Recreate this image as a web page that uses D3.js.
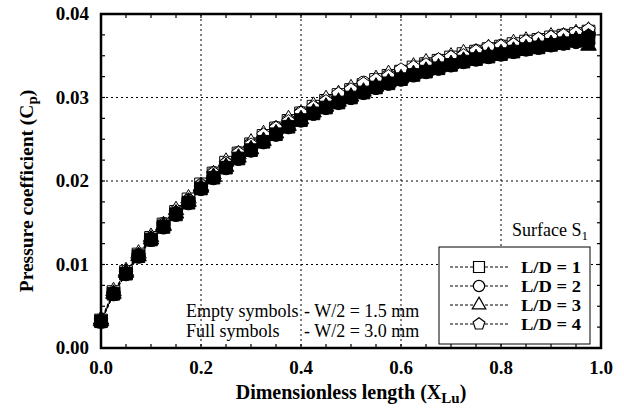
<!DOCTYPE html>
<html>
<head>
<meta charset="utf-8">
<script src="https://cdn.jsdelivr.net/npm/d3@7"></script>
<style>
  body { margin: 0; background: #fff; }
</style>
</head>
<body>
<div id="chart"></div>
<script>
var svgWidth = 624;
var svgHeight = 413;

var margin = { top: 14, right: 23, bottom: 65, left: 101 };
var width = svgWidth - margin.left - margin.right;
var height = svgHeight - margin.top - margin.bottom;

// dimensionless length positions
var xLu = [0, 0.025, 0.05, 0.075, 0.1, 0.125, 0.15, 0.175, 0.2, 0.225, 0.25, 0.275, 0.3, 0.325, 0.35, 0.375,
  0.4, 0.425, 0.45, 0.475, 0.5, 0.525, 0.55, 0.575, 0.6, 0.625, 0.65, 0.675, 0.7, 0.725, 0.75, 0.775,
  0.8, 0.825, 0.85, 0.875, 0.9, 0.925, 0.95, 0.975];

// empty symbols, W/2 = 1.5 mm
var cpEmpty1 = [0.0033, 0.0067, 0.0091, 0.0112, 0.0132, 0.0148, 0.0163, 0.0178, 0.0196, 0.0209, 0.0222, 0.0233, 0.0244, 0.0254, 0.0263, 0.0272,
  0.0281, 0.0289, 0.0296, 0.0303, 0.0309, 0.0315, 0.0321, 0.0326, 0.0331, 0.0336, 0.0340, 0.0344, 0.0348, 0.0352, 0.0355, 0.0358,
  0.0361, 0.0364, 0.0367, 0.0369, 0.0372, 0.0374, 0.0376, 0.0379];
var cpEmpty2 = [0.0032, 0.0066, 0.0090, 0.0111, 0.0131, 0.0149, 0.0164, 0.0177, 0.0195, 0.0210, 0.0221, 0.0234, 0.0245, 0.0253, 0.0264, 0.0273,
  0.0282, 0.0288, 0.0297, 0.0302, 0.0310, 0.0318, 0.0320, 0.0327, 0.0332, 0.0335, 0.0341, 0.0345, 0.0347, 0.0351, 0.0356, 0.0357,
  0.0362, 0.0363, 0.0366, 0.0370, 0.0371, 0.0375, 0.0375, 0.0378];
var cpEmpty3 = [0.0034, 0.0068, 0.0092, 0.0113, 0.0133, 0.0147, 0.0165, 0.0179, 0.0194, 0.0208, 0.0223, 0.0232, 0.0246, 0.0256, 0.0262, 0.0274,
  0.0280, 0.0290, 0.0298, 0.0304, 0.0311, 0.0314, 0.0322, 0.0328, 0.0330, 0.0337, 0.0342, 0.0343, 0.0349, 0.0353, 0.0354, 0.0359,
  0.0360, 0.0365, 0.0368, 0.0368, 0.0373, 0.0373, 0.0377, 0.0380];
var cpEmpty4 = [0.0033, 0.0066, 0.0092, 0.0111, 0.0131, 0.0148, 0.0162, 0.0177, 0.0195, 0.0209, 0.0221, 0.0233, 0.0243, 0.0255, 0.0263, 0.0271,
  0.0281, 0.0288, 0.0295, 0.0304, 0.0309, 0.0316, 0.0321, 0.0325, 0.0333, 0.0336, 0.0339, 0.0345, 0.0348, 0.0350, 0.0355, 0.0360,
  0.0361, 0.0363, 0.0367, 0.0370, 0.0372, 0.0374, 0.0377, 0.0381];

// full symbols, W/2 = 3.0 mm
var cpFull1 = [0.0032, 0.0065, 0.0089, 0.0110, 0.0130, 0.0145, 0.0160, 0.0174, 0.0191, 0.0204, 0.0216, 0.0227, 0.0237, 0.0247, 0.0256, 0.0265,
  0.0273, 0.0281, 0.0288, 0.0294, 0.0300, 0.0306, 0.0312, 0.0317, 0.0322, 0.0327, 0.0331, 0.0335, 0.0339, 0.0343, 0.0346, 0.0349,
  0.0352, 0.0355, 0.0358, 0.0360, 0.0363, 0.0365, 0.0368, 0.0371];
var cpFull2 = [0.0031, 0.0064, 0.0088, 0.0109, 0.0129, 0.0144, 0.0159, 0.0173, 0.0190, 0.0203, 0.0215, 0.0226, 0.0236, 0.0246, 0.0255, 0.0264,
  0.0272, 0.0280, 0.0287, 0.0293, 0.0299, 0.0305, 0.0311, 0.0316, 0.0321, 0.0326, 0.0330, 0.0334, 0.0338, 0.0342, 0.0345, 0.0348,
  0.0351, 0.0354, 0.0357, 0.0359, 0.0362, 0.0364, 0.0366, 0.0365];
var cpFull3 = [0.0032, 0.0065, 0.0090, 0.0110, 0.0130, 0.0146, 0.0161, 0.0175, 0.0192, 0.0205, 0.0217, 0.0228, 0.0238, 0.0248, 0.0257, 0.0266,
  0.0274, 0.0282, 0.0289, 0.0295, 0.0301, 0.0307, 0.0313, 0.0318, 0.0323, 0.0328, 0.0332, 0.0336, 0.0340, 0.0344, 0.0347, 0.0350,
  0.0353, 0.0356, 0.0359, 0.0361, 0.0364, 0.0366, 0.0369, 0.0362];
var cpFull4 = [0.0031, 0.0064, 0.0089, 0.0109, 0.0129, 0.0145, 0.0160, 0.0174, 0.0191, 0.0204, 0.0216, 0.0227, 0.0237, 0.0247, 0.0256, 0.0265,
  0.0273, 0.0281, 0.0288, 0.0294, 0.0300, 0.0306, 0.0312, 0.0317, 0.0322, 0.0327, 0.0331, 0.0335, 0.0339, 0.0343, 0.0346, 0.0349,
  0.0352, 0.0355, 0.0358, 0.0360, 0.0363, 0.0365, 0.0367, 0.0374];

var xTicks = [0, 0.2, 0.4, 0.6, 0.8, 1.0];
var yTicks = [0, 0.01, 0.02, 0.03, 0.04];
var legendLabels = ["L/D = 1", "L/D = 2", "L/D = 3", "L/D = 4"];

var serif = "'Liberation Serif', 'Tinos', 'Times New Roman', 'DejaVu Serif', serif";

// custom pentagon symbol
var symbolPentagon = {
  draw: function(context, size) {
    var r = Math.sqrt(size / 2.3776);
    for (var i = 0; i < 5; i++) {
      var a = -Math.PI / 2 + i * 2 * Math.PI / 5;
      if (i === 0) context.moveTo(r * Math.cos(a), r * Math.sin(a));
      else context.lineTo(r * Math.cos(a), r * Math.sin(a));
    }
    context.closePath();
  }
};
var shapes = [d3.symbolSquare, d3.symbolCircle, d3.symbolTriangle, symbolPentagon];
var shapeSize = [160, 125, 105, 120];
var legendSize = [120, 100, 80, 90];

var series = [
  { vals: cpEmpty1, shape: 0, full: false },
  { vals: cpEmpty2, shape: 1, full: false },
  { vals: cpEmpty3, shape: 2, full: false },
  { vals: cpEmpty4, shape: 3, full: false },
  { vals: cpFull1, shape: 0, full: true },
  { vals: cpFull2, shape: 1, full: true },
  { vals: cpFull3, shape: 2, full: true },
  { vals: cpFull4, shape: 3, full: true }
];

var svg = d3.select("#chart")
  .append("svg")
  .attr("width", svgWidth)
  .attr("height", svgHeight)
  .attr("font-family", serif)
  .style("font-family", serif);

var chartGroup = svg.append("g")
  .attr("transform", `translate(${margin.left}, ${margin.top})`);

var xScale = d3.scaleLinear().domain([0, 1]).range([0, width]);
var yScale = d3.scaleLinear().domain([0, 0.04]).range([height, 0]);

// dotted grid
chartGroup.append("g").selectAll("line.gx")
  .data(xTicks.slice(1, -1))
  .enter().append("line")
  .attr("x1", d => xScale(d)).attr("x2", d => xScale(d))
  .attr("y1", 0).attr("y2", height)
  .attr("stroke", "#000").attr("stroke-width", 1).attr("stroke-dasharray", "2,3");
chartGroup.append("g").selectAll("line.gy")
  .data(yTicks.slice(1, -1))
  .enter().append("line")
  .attr("y1", d => yScale(d)).attr("y2", d => yScale(d))
  .attr("x1", 0).attr("x2", width)
  .attr("stroke", "#000").attr("stroke-width", 1).attr("stroke-dasharray", "2,3");

// minor ticks (inward, all four sides)
var xMinor = d3.range(0, 1.0001, 0.05);
var yMinor = d3.range(0, 0.04001, 0.0025);
var tickG = chartGroup.append("g").attr("stroke", "#000").attr("stroke-width", 1.2);
xMinor.forEach(function(v) {
  tickG.append("line").attr("x1", xScale(v)).attr("x2", xScale(v)).attr("y1", height).attr("y2", height - 4);
  tickG.append("line").attr("x1", xScale(v)).attr("x2", xScale(v)).attr("y1", 0).attr("y2", 4);
});
yMinor.forEach(function(v) {
  tickG.append("line").attr("y1", yScale(v)).attr("y2", yScale(v)).attr("x1", 0).attr("x2", 4);
  tickG.append("line").attr("y1", yScale(v)).attr("y2", yScale(v)).attr("x1", width).attr("x2", width - 4);
});

// annotations inside plot
var noteG = chartGroup.append("g").attr("font-size", 18).attr("fill", "#000");
noteG.append("text").attr("x", 85).attr("y", 303).text("Empty symbols");
noteG.append("text").attr("x", 85).attr("y", 323).text("Full symbols");
noteG.append("text").attr("x", 203).attr("y", 303).text("- W/2 = 1.5 mm");
noteG.append("text").attr("x", 203).attr("y", 323).text("- W/2 = 3.0 mm");

// series lines + markers
var line = d3.line()
  .x((d, i) => xScale(xLu[i]))
  .y(d => yScale(d));

series.forEach(function(s) {
  chartGroup.append("path")
    .datum(s.vals)
    .attr("d", line)
    .attr("fill", "none")
    .attr("stroke", "#000")
    .attr("stroke-width", 1)
    .attr("stroke-dasharray", "3,2");
});

series.forEach(function(s) {
  var sym = d3.symbol().type(shapes[s.shape]).size(shapeSize[s.shape]);
  chartGroup.append("g").selectAll("path")
    .data(s.vals)
    .enter().append("path")
    .attr("d", sym)
    .attr("transform", (d, i) => `translate(${xScale(xLu[i])}, ${yScale(d)})`)
    .attr("fill", s.full ? "#000" : "#fff")
    .attr("stroke", "#000")
    .attr("stroke-width", 1);
});

// legend
chartGroup.append("text")
  .attr("x", 411).attr("y", 222)
  .attr("font-size", 18)
  .text("Surface S")
  .append("tspan").attr("font-size", 13).attr("dy", 4).text("1");

var legend = chartGroup.append("g").attr("transform", "translate(338, 233)");
legend.append("rect")
  .attr("width", 151).attr("height", 97)
  .attr("fill", "#fff").attr("stroke", "#000").attr("stroke-width", 1);
legendLabels.forEach(function(lab, i) {
  var cy = 20 + i * 19;
  legend.append("line")
    .attr("x1", 11).attr("x2", 70).attr("y1", cy).attr("y2", cy)
    .attr("stroke", "#000").attr("stroke-width", 1).attr("stroke-dasharray", "3,2");
  legend.append("path")
    .attr("d", d3.symbol().type(shapes[i]).size(legendSize[i])())
    .attr("transform", `translate(40, ${cy})`)
    .attr("fill", "#fff").attr("stroke", "#000").attr("stroke-width", 1.2);
  legend.append("text")
    .attr("x", 82).attr("y", cy + 6)
    .attr("font-size", 17).attr("font-weight", "bold")
    .attr("textLength", 60).attr("lengthAdjust", "spacingAndGlyphs")
    .text(lab);
});

// frame
chartGroup.append("rect")
  .attr("width", width).attr("height", height)
  .attr("fill", "none").attr("stroke", "#000").attr("stroke-width", 2.5);

// tick labels
chartGroup.append("g").selectAll("text")
  .data(xTicks)
  .enter().append("text")
  .attr("x", d => xScale(d)).attr("y", height + 26)
  .attr("text-anchor", "middle")
  .attr("font-size", 19).attr("font-weight", "bold")
  .text(d => d3.format(".1f")(d));
chartGroup.append("g").selectAll("text")
  .data(yTicks)
  .enter().append("text")
  .attr("x", -12).attr("y", d => yScale(d) + 6)
  .attr("text-anchor", "end")
  .attr("font-size", 19).attr("font-weight", "bold")
  .text(d => d3.format(".2f")(d));

// axis titles
var xt = svg.append("text")
  .attr("x", margin.left + width / 2).attr("y", 399)
  .attr("text-anchor", "middle")
  .attr("font-size", 20).attr("font-weight", "bold");
xt.append("tspan").text("Dimensionless length (X");
xt.append("tspan").attr("font-size", 15).attr("dy", 4).text("Lu");
xt.append("tspan").attr("dy", -4).text(")");

var yt = svg.append("text")
  .attr("transform", `translate(33, ${margin.top + height / 2 + 10}) rotate(-90)`)
  .attr("text-anchor", "middle")
  .attr("font-size", 19.5).attr("font-weight", "bold");
yt.append("tspan").text("Pressure coefficient (C");
yt.append("tspan").attr("font-size", 15).attr("dy", 4).text("p");
yt.append("tspan").attr("dy", -4).text(")");
</script>
</body>
</html>
